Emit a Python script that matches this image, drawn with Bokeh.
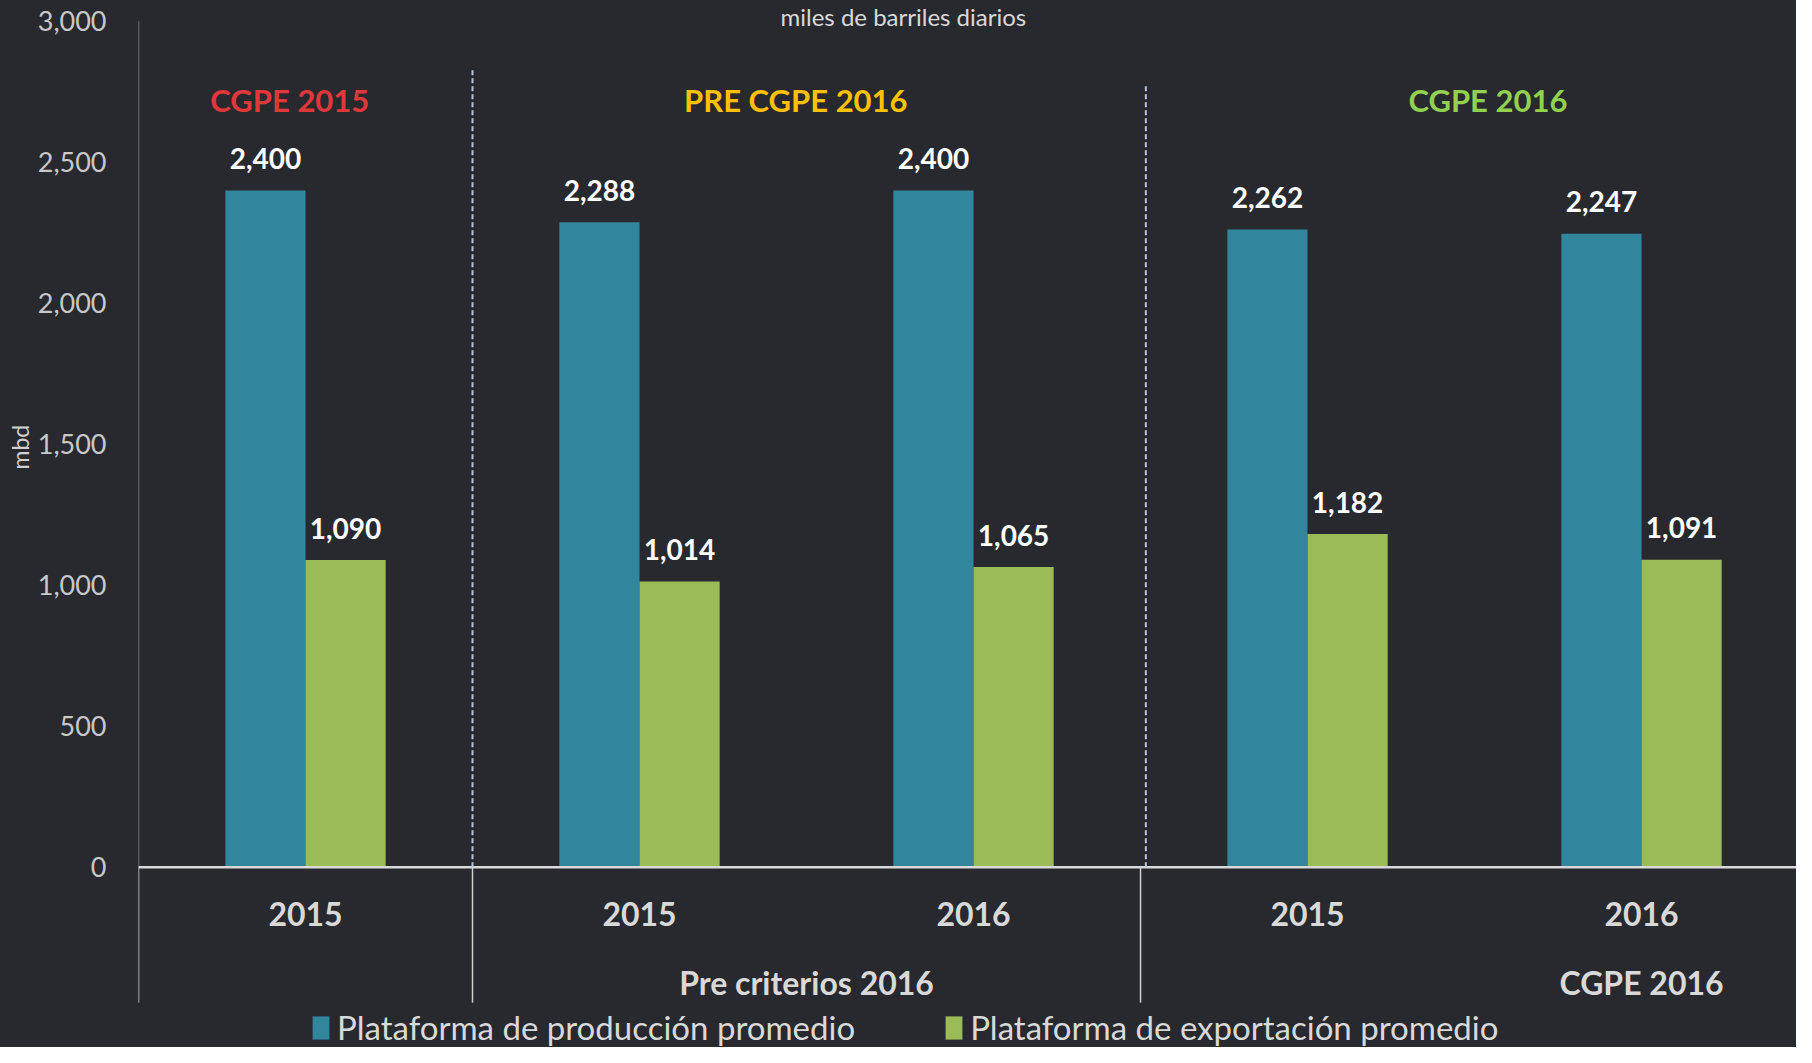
import math
from bokeh.plotting import figure
from bokeh.models import (ColumnDataSource, FixedTicker, NumeralTickFormatter,
                          Legend, LegendItem, Range1d, Title)
from bokeh.core.properties import value
from bokeh.embed import file_html
from bokeh.resources import INLINE

# ---- data ----
categories = ["2015", "2015", "2016", "2015", "2016"]
produccion = [2400, 2288, 2400, 2262, 2247]
exportacion = [1090, 1014, 1065, 1182, 1091]
group_headers = ["CGPE 2015", "PRE CGPE 2016", "CGPE 2016"]
group_labels = ["Pre criterios 2016", "CGPE 2016"]
series_names = ["Plataforma de producción promedio", "Plataforma de exportación promedio"]
y_ticks = [0, 500, 1000, 1500, 2000, 2500, 3000]
title_text = "miles de barriles diarios"
y_label = "mbd"

BG = "#28292e"
BLUE = "#31859c"
GREEN = "#9bbb59"
FONT = "Lato"

Y_MIN, Y_MAX = -639, 3074
X_MAX = 4.964
SEP_BOTTOM = -480

p = figure(width=1796, height=1047, output_backend="svg", toolbar_location=None,
           x_range=Range1d(0, X_MAX), y_range=Range1d(Y_MIN, Y_MAX),
           min_border_left=138, min_border_right=0, min_border_top=0, min_border_bottom=0)
p.styles = {"background-color": BG}
p.background_fill_color = BG
p.border_fill_color = BG
p.outline_line_color = None
p.xgrid.visible = False
p.ygrid.visible = False
p.xaxis.visible = False

ya = p.yaxis[0]
ya.ticker = FixedTicker(ticks=y_ticks)
ya.formatter = NumeralTickFormatter(format="0,0")
ya.major_tick_line_color = None
ya.minor_tick_line_color = None
ya.major_label_standoff = 26
ya.major_label_text_font = FONT
ya.major_label_text_font_size = "27px"
ya.major_label_text_color = "#c8c8c8"
ya.axis_line_color = None

# y axis label as a left-side title
p.add_layout(Title(text=y_label, align="left", offset=578, text_font=FONT,
                   text_font_size="23px", text_font_style="normal", text_color="#d0d0d0",
                   standoff=2), "left")

n = len(categories)
centers = [i + 0.5 for i in range(n)]
bw = 0.24
src = ColumnDataSource(dict(
    xb=[c - bw / 2 for c in centers], xg=[c + bw / 2 for c in centers],
    prod=produccion, exp=exportacion,
    prod_lab=[f"{v:,}" for v in produccion], exp_lab=[f"{v:,}" for v in exportacion],
    prod_y=[v + 113 for v in produccion], exp_y=[v + 113 for v in exportacion],
    cx=centers, cat=categories, cat_y=[-164] * n,
))

# axis line (0..3000) in grey
p.segment(x0=[0], y0=[0], x1=[0], y1=[y_ticks[-1]], line_color="#80858f", line_width=1.5)

rb = p.vbar(x="xb", top="prod", width=bw, bottom=0, source=src, fill_color=BLUE, line_color=None)
rg = p.vbar(x="xg", top="exp", width=bw, bottom=0, source=src, fill_color=GREEN, line_color=None)

p.text(x="xb", y="prod_y", text="prod_lab", source=src, text_align="center", text_baseline="middle",
       text_font=value(FONT), text_font_style="bold", text_font_size="28px", text_color="white")
p.text(x="xg", y="exp_y", text="exp_lab", source=src, text_align="center", text_baseline="middle",
       text_font=value(FONT), text_font_style="bold", text_font_size="28px", text_color="white")

# zero line
p.segment(x0=[0], y0=[0], x1=[X_MAX], y1=[0], line_color="#d9d9d9", line_width=2.5)

# separators below the axis
p.segment(x0=[0, 1, 3], y0=[0, 0, 0], x1=[0, 1, 3], y1=[SEP_BOTTOM] * 3,
          line_color="#d0d0d0", line_width=1.5)

# dashed separators between scenarios
p.segment(x0=[1.0, 3.016], y0=[0, 0], x1=[1.0, 3.016], y1=[2829, 2779],
          line_color="#b4c7e7", line_width=2, line_dash="5 3")

# category labels
p.text(x="cx", y="cat_y", text="cat", source=src, text_align="center", text_baseline="middle",
       text_font=value(FONT), text_font_style="bold", text_font_size="32px", text_color="#d9d9d9")

# group labels beneath
p.text(x=[2.0, 4.5], y=[-409, -409], text=group_labels, text_align="center", text_baseline="middle",
       text_font=value(FONT), text_font_style="bold", text_font_size="32px", text_color="#d9d9d9")

# scenario headers
p.text(x=[0.453, 1.968, 4.04], y=[2721] * 3, text=group_headers, text_align="center",
       text_baseline="middle", text_font=value(FONT), text_font_style="bold", text_font_size="31px",
       text_color=["#e0383a", "#ffc000", "#92d050"])

# title (cut off at the top in the original)
p.text(x=[2.29], y=[Y_MAX - 4], text=[title_text], text_align="center", text_baseline="top",
       text_font=value(FONT), text_font_size="24px", text_color="#d9d9d9")

legend = Legend(items=[LegendItem(label=series_names[0], renderers=[rb]),
                       LegendItem(label=series_names[1], renderers=[rg])],
                orientation="horizontal", location=(172, 0),
                background_fill_alpha=0, border_line_color=None,
                label_text_font=FONT, label_text_font_size="33px", label_text_color="#d9d9d9",
                glyph_width=21, glyph_height=29, spacing=88, padding=2, margin=0,
                label_standoff=6)
p.add_layout(legend, "center")

open("out.html", "w").write(file_html(p, INLINE))
